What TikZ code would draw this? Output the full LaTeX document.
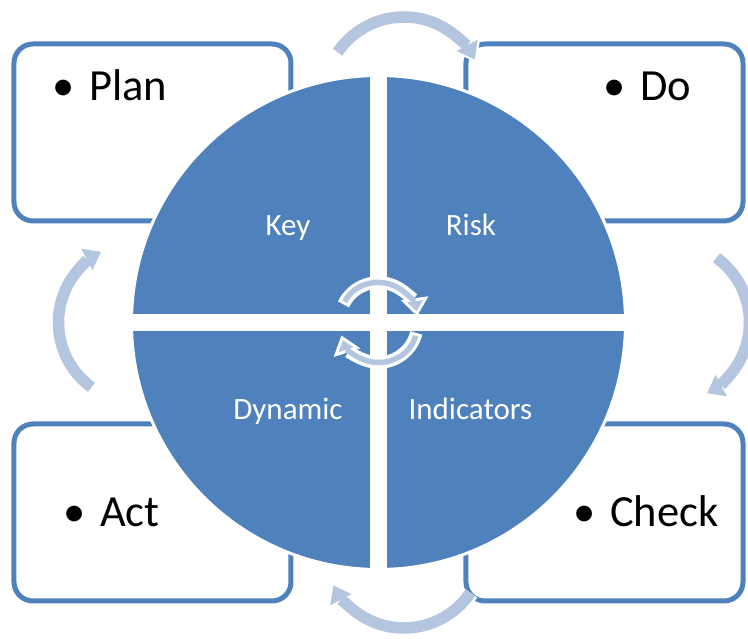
\documentclass[tikz,border=0pt]{standalone}
\usepackage{fontspec}
\setmainfont{Carlito}
\usetikzlibrary{arrows.meta,positioning}
\definecolor{quadblue}{RGB}{79,129,189}
\definecolor{arrowblue}{RGB}{180,197,224}
\newcommand{\phaseitem}[1]{\makebox[37pt][l]{\textbullet}#1}

\begin{document}
\begin{tikzpicture}[x=1pt,y=1pt,
  phase/.style={draw=quadblue,line width=5pt,rounded corners=19pt,
    minimum width=277pt,minimum height=177pt,outer sep=0pt,inner sep=0pt},
  phasetext/.style={font=\fontsize{44.5}{52}\selectfont,inner sep=0pt,anchor=base west},
  quadtext/.style={font=\fontsize{31}{37}\selectfont,text=white,inner sep=0pt,anchor=base},
  cyclehalo/.style={draw=white,line width=17pt,shorten >=-3pt,
    -{Triangle[length=19pt,width=30pt,line width=0pt]}},
  cyclearrow/.style={draw=arrowblue,line width=11.5pt,
    -{Triangle[length=16pt,width=24pt,line width=0pt]}},
  turnout/.style={draw=white,line width=12.5pt,
    -{Triangle[length=18pt,width=28pt,line width=0pt]}},
  turnin/.style={draw=arrowblue,line width=5.5pt,shorten <=3pt,shorten >=5pt,
    -{Triangle[length=10pt,width=16pt,line width=0pt]}}]
\useasboundingbox (-378.5,-316.5) rectangle (369.5,322.5);
% the four boxes
\node[phase] (plan) at (-226,190) {};
\node[phase] (do) at (226,190) {};
\node[phase] (act) at (-226,-190) {};
\node[phase] (check) at (226,-190) {};
\node[phasetext] (plantext) at ([shift={(38,-57)}]plan.north west) {\phaseitem{Plan}};
\node[phasetext] (dotext) at ([shift={(137,-57)}]do.north west) {\phaseitem{Do}};
\node[phasetext] (acttext) at ([shift={(49,-103)}]act.north west) {\phaseitem{Act}};
\node[phasetext] (checktext) at ([shift={(107,-103)}]check.north west) {\phaseitem{Check}};
% the wheel, cut in four
\node[circle,fill=quadblue,draw=white,line width=3pt,minimum size=494pt] (wheel) at (0,0) {};
\draw[white,line width=17pt] (wheel.west) -- (wheel.east) (wheel.south) -- (wheel.north);
\node[quadtext] (key) at (-90.5,86.5) {Key};
\node[quadtext] (risk) at (92.5,86.5) {Risk};
\node[quadtext] (dynamic) at (-90.5,-97) {Dynamic};
\node[quadtext] (indicators) at (92,-97) {Indicators};
% arrows round the boxes
\foreach \look in {cyclehalo,cyclearrow}{
  \draw[\look] (25.5,225.5) ++(146:80) arc[start angle=146,end angle=28,radius=80];
  \draw[\look] (291,0) ++(54:80) arc[start angle=54,end angle=-62,radius=80];
  \draw[\look] (25.5,-225.5) ++(-34:80) arc[start angle=-34,end angle=-152,radius=80];
  \draw[\look] (-240,0) ++(234:80) arc[start angle=234,end angle=118,radius=80];
}
% arrows in the middle
\foreach \look in {turnout,turnin}{
  \draw[\look] (0,1) ++(154:39) arc[start angle=154,end angle=8,radius=39];
  \draw[\look] (0,-1) ++(-14:39) arc[start angle=-14,end angle=-162,radius=39];
}
\end{tikzpicture}
\end{document}
